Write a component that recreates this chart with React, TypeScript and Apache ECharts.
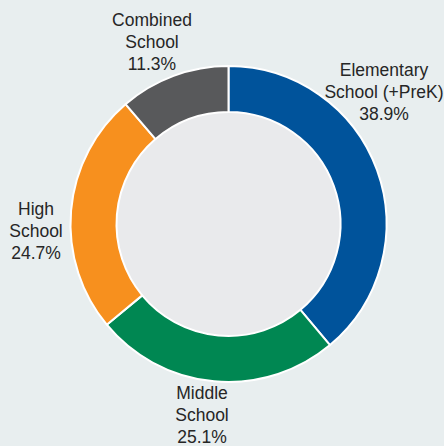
import React, { useEffect, useRef } from "react";
import * as echarts from "echarts";

const categories = ["Elementary\nSchool (+PreK)", "Middle\nSchool", "High\nSchool", "Combined\nSchool"];
const shares = [38.9, 25.1, 24.7, 11.3];
const colors = ["#00539b", "#008752", "#f7901e", "#58595b"];
const labelSpots: [number, number][] = [
  [384, 92],
  [202, 415],
  [36, 231],
  [152, 42],
];

export default function App() {
  const ref = useRef<HTMLDivElement>(null);
  useEffect(() => {
    if (!ref.current) return;
    const chart = echarts.init(ref.current, null, { renderer: "svg" });
    chart.setOption({
      animation: false,
      backgroundColor: "#e8eeef",
      series: [
        {
          type: "pie",
          silent: true,
          center: [228.5, 224],
          radius: [0, 113],
          label: { show: false },
          labelLine: { show: false },
          itemStyle: { color: "#e9eaec" },
          data: [{ value: 1, name: "" }],
        },
        {
          type: "pie",
          center: [228.5, 224],
          radius: [112, 158],
          startAngle: 90,
          clockwise: true,
          itemStyle: { borderColor: "#ffffff", borderWidth: 2 },
          label: {
            show: true,
            position: "inside",
            formatter: (p: any) => `${p.name}\n${shares[p.dataIndex].toFixed(1)}%`,
            fontFamily: "Liberation Sans, Arial, sans-serif",
            fontSize: 17.5,
            lineHeight: 22,
            color: "#262626",
            align: "center",
          },
          labelLine: { show: false },
          labelLayout: (params: any) => ({
            x: labelSpots[params.dataIndex][0],
            y: labelSpots[params.dataIndex][1],
            align: "center",
            verticalAlign: "middle",
          }),
          data: categories.map((c, i) => ({
            name: c,
            value: shares[i],
            itemStyle: { color: colors[i] },
          })),
        },
      ],
    });
    return () => chart.dispose();
  }, []);
  return (
    <div
      ref={ref}
      style={{ position: "absolute", left: 0, top: 0, width: 444, height: 446 }}
    />
  );
}
